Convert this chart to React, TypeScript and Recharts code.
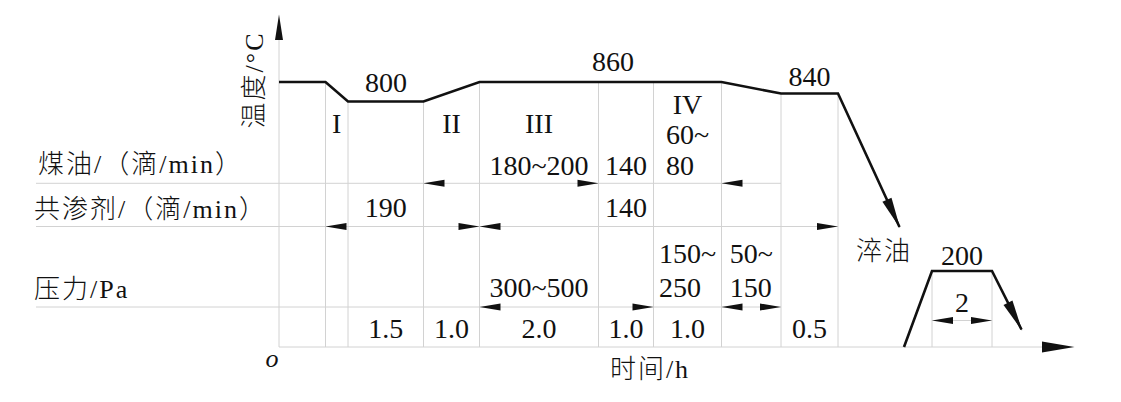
import { ComposedChart, Line, XAxis, YAxis, ReferenceLine, ReferenceDot } from 'recharts';

const W = 1121;
const H = 402;

// schematic frame: origin at the axis corner, roughly 10 px per unit
const X_DOMAIN = [-27.9, 84.2];
const Y_DOMAIN = [-5.5, 34.7];

// stage boundaries along the time axis
const stageBounds = [0, 4.65, 6.9, 14.45, 20.05, 31.95, 37.45, 44.25, 50.2, 55.9];

// temperature curve (carburizing + quench) and tempering
const carburizing = [
  { x: 0, y: 26.5 },
  { x: 4.65, y: 26.5 },
  { x: 6.9, y: 24.55 },
  { x: 14.45, y: 24.55 },
  { x: 20.05, y: 26.5 },
  { x: 44.25, y: 26.5 },
  { x: 50.2, y: 25.35 },
  { x: 55.9, y: 25.35 },
  { x: 62.05, y: 12.0 },
];
const tempering = [
  { x: 62.5, y: 0 },
  { x: 65.3, y: 7.6 },
  { x: 71.3, y: 7.6 },
  { x: 74.25, y: 1.75 },
];

// one entry per stage interval
const stageNames = ['', 'I', '', 'II', 'III', '', 'IV', '', ''];
const keroseneRate = ['', '', '', '', '180~200', '140', '60~\n80', '', ''];
const agentRate = ['', '', '190', '', '', '140', '', '', ''];
const pressure = ['', '', '', '', '300~500', '', '150~\n250', '50~\n150', ''];
const hours = ['', '', '1.5', '1.0', '2.0', '1.0', '1.0', '', '0.5'];

const rowLabels = ['煤油/（滴/min）', '共渗剂/（滴/min）', '压力/Pa'];
const rowLevels = [16.37, 12.05, 4.0];
const rowEnds = [50.2, 55.9, 50.2];

// dimension arrow tips (dir -1 = points left, 1 = points right)
const keroseneMarks = [{ x: 14.45, dir: -1 }, { x: 31.95, dir: 1 }, { x: 44.25, dir: -1 }];
const agentMarks = [{ x: 4.65, dir: -1 }, { x: 20.05, dir: 1 }, { x: 20.05, dir: -1 }, { x: 55.9, dir: 1 }];
const pressureMarks = [{ x: 20.05, dir: -1 }, { x: 37.45, dir: 1 }, { x: 44.25, dir: -1 }, { x: 50.2, dir: 1 }];

const tempLabels = ['800', '860', '840', '200'];
const tempLabelAt = [
  { x: 10.7, y: 25.5 },
  { x: 33.4, y: 27.6 },
  { x: 53.05, y: 26.1 },
  { x: 68.3, y: 8.2 },
];
const temperHours = '2';

const SERIF = "'Liberation Serif', 'Times New Roman', serif";
const MIXED = "'Liberation Serif', 'Noto Sans CJK SC', serif";
const GRAY = '#d2d2d2';
const INK = '#111';
const NUM = 28;
const CJK = 26;

const profileY = (x: number) => {
  for (let i = 1; i < carburizing.length; i++) {
    const a = carburizing[i - 1], b = carburizing[i];
    if (x >= a.x && x <= b.x) return a.y + ((b.y - a.y) * (x - a.x)) / (b.x - a.x || 1);
  }
  return carburizing[0].y;
};

const mid = (i: number) => (stageBounds[i] + stageBounds[i + 1]) / 2;

const textW = (s: string) =>
  s.split('').reduce((w, c) => w + (c === '~' ? 0.54 : c === '.' ? 0.25 : 0.5), 0) * NUM;

function arrowHead(x1: number, y1: number, x2: number, y2: number, len: number, half: number) {
  const dx = x2 - x1, dy = y2 - y1;
  const d = Math.hypot(dx, dy) || 1;
  const ux = dx / d, uy = dy / d;
  const bx = x2 - ux * len, by = y2 - uy * len;
  const pts = [
    [x2 + ux * 1.5, y2 + uy * 1.5],
    [bx - uy * half, by + ux * half],
    [bx + uy * half, by - ux * half],
  ];
  return <polygon points={pts.map(p => p.join(',')).join(' ')} fill={INK} />;
}

function seg(key: string, a: { x: number; y: number }, b: { x: number; y: number }, stroke = GRAY) {
  return (
    <ReferenceLine
      key={key}
      segment={[a, b]}
      stroke={stroke}
      strokeWidth={1}
      ifOverflow="visible"
    />
  );
}

function head(key: string, a: { x: number; y: number }, b: { x: number; y: number }, len: number, half: number) {
  return (
    <ReferenceLine
      key={key}
      segment={[a, b]}
      ifOverflow="visible"
      shape={(p: any) => arrowHead(p.x1, p.y1, p.x2, p.y2, len, half)}
    />
  );
}

function mark(key: string, x: number, y: number, dir: number) {
  return (
    <ReferenceDot
      key={key}
      x={x}
      y={y}
      r={0}
      ifOverflow="visible"
      shape={(p: any) => {
        const bx = p.cx - dir * 21;
        return <polygon points={`${p.cx},${p.cy} ${bx},${p.cy - 3.5} ${bx},${p.cy + 3.5}`} fill={INK} />;
      }}
    />
  );
}

function txt(key: string, x: number, y: number, s: string, opts: any = {}) {
  const { anchor = 'middle', size = NUM, family = SERIF, rotate = 0, italic = false, spacing = 0, baseline, weight = 400 } = opts;
  return (
    <ReferenceDot
      key={key}
      x={x}
      y={y}
      r={0}
      ifOverflow="visible"
      shape={(p: any) => (
        <text
          x={p.cx}
          y={p.cy}
          textAnchor={anchor}
          dominantBaseline={baseline}
          fontSize={size}
          fontFamily={family}
          fontWeight={weight}
          fontStyle={italic ? 'italic' : 'normal'}
          letterSpacing={spacing}
          fill={INK}
          transform={rotate ? `rotate(${rotate} ${p.cx} ${p.cy})` : undefined}
        >
          {s}
        </text>
      )}
    />
  );
}

// a stage cell: single line centred, several lines left-aligned as a centred block
function cell(key: string, i: number, y: number, s: string, lineH: number) {
  if (!s) return null;
  const lines = s.split('\n');
  if (lines.length === 1) return txt(key, mid(i), y, s);
  const w = Math.max(...lines.map(textW));
  return (
    <ReferenceDot
      key={key}
      x={mid(i)}
      y={y}
      r={0}
      ifOverflow="visible"
      shape={(p: any) => (
        <g>
          {lines.map((l, j) => (
            <text
              key={j}
              x={p.cx - w / 2}
              y={p.cy - (lines.length - 1 - j) * lineH}
              fontSize={NUM}
              fontFamily={SERIF}
              fill={INK}
            >
              {l}
            </text>
          ))}
        </g>
      )}
    />
  );
}

const cjk = { size: CJK, family: MIXED, spacing: 2, weight: 300 };

export default function App() {
  const lastC = carburizing.length - 1;
  const lastT = tempering.length - 1;

  return (
    <div style={{ position: 'absolute', left: 0, top: 0, background: '#fff' }}>
      <ComposedChart width={W} height={H} margin={{ top: 0, right: 0, bottom: 0, left: 0 }}>
        <XAxis type="number" dataKey="x" domain={X_DOMAIN} allowDataOverflow hide />
        <YAxis type="number" dataKey="y" domain={Y_DOMAIN} allowDataOverflow hide />

        {/* gray guide lines */}
        {stageBounds.slice(1).map((b, i) => seg(`v${i}`, { x: b, y: profileY(b) }, { x: b, y: 0 }))}
        {rowLevels.map((lv, i) => seg(`h${i}`, { x: -24.3, y: lv }, { x: rowEnds[i], y: lv }))}
        {seg('tv1', { x: tempering[1].x, y: tempering[1].y }, { x: tempering[1].x, y: 0 })}
        {seg('tv2', { x: tempering[2].x, y: tempering[2].y }, { x: tempering[2].x, y: 0 })}
        {seg('tdim', { x: tempering[1].x, y: 2.65 }, { x: tempering[2].x, y: 2.65 })}

        {/* axes */}
        {seg('ay', { x: 0, y: 0 }, { x: 0, y: 30.7 })}
        {seg('ax', { x: 0, y: 0 }, { x: 76.5, y: 0 })}
        {head('ayh', { x: 0, y: 30.7 }, { x: 0, y: 33.1 }, 24, 4)}
        {head('axh', { x: 76.3, y: 0 }, { x: 79.4, y: 0 }, 31, 5.5)}

        <Line
          data={carburizing}
          dataKey="y"
          type="linear"
          stroke={INK}
          strokeWidth={2.6}
          dot={false}
          activeDot={false}
          isAnimationActive={false}
        />
        <Line
          data={tempering}
          dataKey="y"
          type="linear"
          stroke={INK}
          strokeWidth={2.6}
          dot={false}
          activeDot={false}
          isAnimationActive={false}
        />
        {head('qh', carburizing[lastC - 1], carburizing[lastC], 30, 5)}
        {head('th', tempering[lastT - 1], tempering[lastT], 30, 5)}

        {/* dimension arrows */}
        {keroseneMarks.map((m, i) => mark(`km${i}`, m.x, rowLevels[0], m.dir))}
        {agentMarks.map((m, i) => mark(`am${i}`, m.x, rowLevels[1], m.dir))}
        {pressureMarks.map((m, i) => mark(`pm${i}`, m.x, rowLevels[2], m.dir))}
        {mark('tm1', tempering[1].x, 2.65, -1)}
        {mark('tm2', tempering[2].x, 2.65, 1)}

        {/* stage texts */}
        {stageNames.map((s, i) =>
          s ? txt(`sn${i}`, mid(i), keroseneRate[i].includes('\n') ? 23.3 : 21.4, s) : null
        )}
        {keroseneRate.map((s, i) => cell(`kr${i}`, i, 17.2, s, 31))}
        {agentRate.map((s, i) => cell(`ar${i}`, i, 13.0, s, 33))}
        {pressure.map((s, i) => cell(`pr${i}`, i, 5.05, s, 34))}
        {hours.map((s, i) => cell(`hr${i}`, i, 0.9, s, 30))}

        {/* temperatures */}
        {tempLabels.map((s, i) => txt(`tl${i}`, tempLabelAt[i].x, tempLabelAt[i].y, s))}
        {txt('t2', (tempering[1].x + tempering[2].x) / 2, 3.55, temperHours)}

        {/* row labels and axis titles */}
        {rowLabels.map((s, i) =>
          txt(`rl${i}`, i === 0 ? -24.1 : -24.5, [17.4, 12.9, 4.9][i], s, { ...cjk, anchor: 'start' })
        )}
        {txt('qo', 60.5, 8.7, '淬油', cjk)}
        {txt('ty', -2.5, 26.7, '温度/°C', { ...cjk, rotate: -90, baseline: 'central' })}
        {txt('tx', 37.1, -3.1, '时间/h', cjk)}
        {txt('o', -0.7, -2.0, 'o', { size: 26, italic: true })}
      </ComposedChart>
    </div>
  );
}
